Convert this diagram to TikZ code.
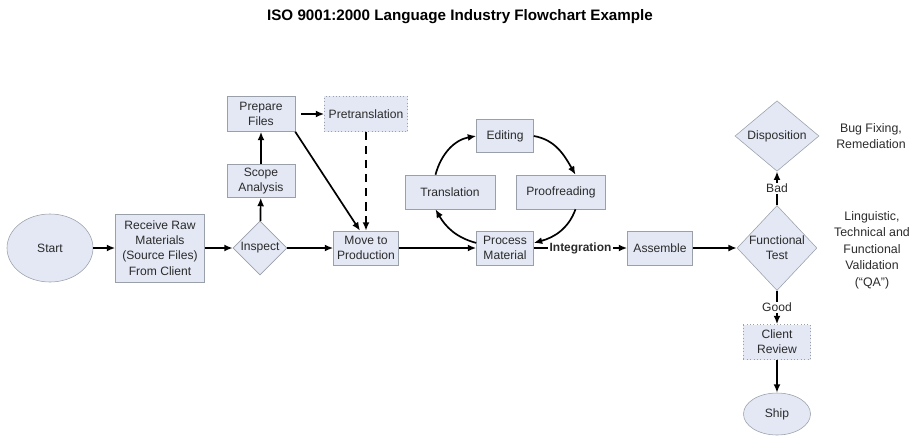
\documentclass[tikz,border=0pt]{standalone}
\usepackage{fontspec}
\setmainfont{Liberation Sans}
\usepackage{tikz}
\usetikzlibrary{shapes.geometric,arrows.meta}
\definecolor{boxfill}{HTML}{E3E8F4}
\definecolor{boxline}{HTML}{9AA0AA}
\definecolor{ink}{HTML}{2B2B2B}

\begin{document}
\begin{tikzpicture}[
    x=0.025cm, y=-0.025cm,
    font=\fontsize{8.6}{10.8}\selectfont, text=ink,
    box/.style={draw=boxline, fill=boxfill, align=center, inner sep=1pt},
    dotbox/.style={box, dotted},
    oval/.style={ellipse, draw=boxline, fill=boxfill, inner sep=0pt},
    choice/.style={diamond, draw=boxline, fill=boxfill, align=center, inner sep=0pt},
    note/.style={align=center, font=\fontsize{8.8}{11.8}\selectfont},
    arrow/.style={-{Latex[length=6pt,width=5pt]}, line width=1.2pt, draw=black},
    lbl/.style={fill=white, inner sep=1pt}
  ]
    \useasboundingbox (0,0) rectangle (916,435);
    \node[font=\bfseries\fontsize{10.8}{12}\selectfont, text=black] (title) at (460,17) {ISO 9001:2000 Language Industry Flowchart Example};

    \node[oval, minimum width=2.15cm, minimum height=1.7cm] (start) at (50,248) {Start};
    \node[box, minimum width=2.225cm, minimum height=1.7cm] (receive) at (160,248) {Receive Raw\\Materials\\(Source Files)\\From Client};
    \node[choice, minimum width=1.35cm, minimum height=1.35cm] (inspect) at (260,248) {Inspect};
    \node[box, minimum width=1.7cm, minimum height=0.825cm] (scope) at (261,181) {Scope\\Analysis};
    \node[box, minimum width=1.7cm, minimum height=0.875cm] (prepare) at (261,114) {Prepare\\Files};
    \node[dotbox, minimum width=2.075cm, minimum height=0.875cm] (pretrans) at (366,114) {Pretranslation};
    \node[box, minimum width=1.625cm, minimum height=0.85cm] (move) at (366,248) {Move to\\Production};

    \node[box, minimum width=1.425cm, minimum height=0.825cm] (editing) at (505,136) {Editing};
    \node[box, minimum width=2.25cm, minimum height=0.85cm] (translation) at (450,192) {Translation};
    \node[box, minimum width=2.225cm, minimum height=0.85cm] (proofreading) at (561,192) {Proofreading};
    \node[box, minimum width=1.425cm, minimum height=0.85cm] (process) at (505,248) {Process\\Material};
    \node[box, minimum width=1.625cm, minimum height=0.85cm] (assemble) at (660,248) {Assemble};

    \node[choice, minimum width=1.8cm, minimum height=2.125cm] (test) at (777,248) {Functional\\Test};
    \node[choice, minimum width=2.1cm, minimum height=1.65cm] (disposition) at (777,136) {Disposition};
    \node[dotbox, minimum width=1.675cm, minimum height=0.875cm] (review) at (777,342) {Client\\Review};
    \node[oval, minimum width=1.675cm, minimum height=1.05cm] (ship) at (777,414) {Ship};

    \node[note] (bugfix) at (871,136) {Bug Fixing,\\Remediation};
    \node[note] (qa) at (872,250) {Linguistic,\\Technical and\\Functional\\Validation\\(``QA'')};

    \draw[arrow] (start) -- (receive);
    \draw[arrow] (receive) -- (inspect);
    \draw[arrow] (inspect) -- (scope);
    \draw[arrow] (scope) -- (prepare);
    \draw[arrow, shorten <=4pt] (prepare) -- (pretrans);
    \draw[arrow] (prepare.south east) -- ([xshift=-0.15cm]move.north);
    \draw[arrow, dash pattern=on 6pt off 4pt] (pretrans) -- (move);
    \draw[arrow] (inspect) -- (move);
    \draw[arrow] (move) -- (process);

    \draw[arrow] (translation.130) to[out=75, in=190] (editing.west);
    \draw[arrow] (editing.east) to[out=-10, in=120] (proofreading.50);
    \draw[arrow] (proofreading.-50) to[out=-110, in=15] (process.10);
    \draw[arrow] (process.170) to[out=165, in=-60] (translation.230);

    \draw[arrow] (process) -- node[lbl, font=\bfseries\fontsize{8.5}{10}\selectfont] {Integration} (assemble);
    \draw[arrow] (assemble) -- (test);
    \draw[arrow] (test) -- node[lbl] {Bad} (disposition);
    \draw[arrow] (test) -- node[lbl] {Good} (review);
    \draw[arrow] (review) -- (ship);
  \end{tikzpicture}
\end{document}
